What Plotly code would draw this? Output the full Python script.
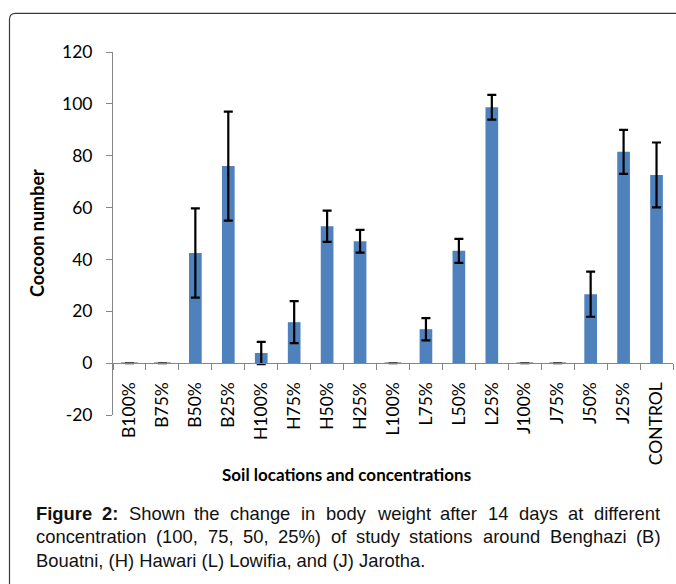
import plotly.graph_objects as go

# ---------------- data ----------------
categories = ["B100%", "B75%", "B50%", "B25%", "H100%", "H75%", "H50%", "H25%",
              "L100%", "L75%", "L50%", "L25%", "J100%", "J75%", "J50%", "J25%", "CONTROL"]
cocoons = [0, 0, 42.5, 76.0, 3.9, 15.8, 52.8, 47.0,
           0, 13.1, 43.3, 98.7, 0, 0, 26.6, 81.5, 72.6]
errors = [0, 0, 17.2, 21.0, 4.3, 8.1, 6.0, 4.4,
          0, 4.3, 4.6, 4.8, 0, 0, 8.7, 8.5, 12.5]
y_ticks = [-20, 0, 20, 40, 60, 80, 100, 120]

y_title = "Cocoon number"
x_title = "Soil locations and concentrations"
caption_title = "Figure 2:"
caption_lines = [
    "Shown the change in body weight after 14 days at different",
    "concentration (100, 75, 50, 25%) of study stations around Benghazi (B)",
    "Bouatni, (H) Hawari (L) Lowifia, and (J) Jarotha.",
]

# ---------------- geometry helpers ----------------
W, H = 676, 584
ML, MR, MT, MB = 113, 3, 52, 169
PW, PH = W - ML - MR, H - MT - MB


def px_x(px):
    return (px - ML) / PW


def px_y(py):
    return 1 - (py - MT) / PH


BLUE = "#4F81BD"
GRAY = "#868686"
TICKFONT = dict(family="Lato, Open Sans, sans-serif", size=17.5, color="#000000")

fig = go.Figure()

err_plot = [e if v != 0 else None for v, e in zip(cocoons, errors)]
fig.add_trace(go.Bar(
    x=categories, y=cocoons,
    marker=dict(color=BLUE, line=dict(width=0)),
    error_y=dict(type="data", array=err_plot, visible=True,
                 color="#000000", thickness=2.2, width=4.5),
    showlegend=False, hoverinfo="x+y",
))

zero_x = [c for c, v in zip(categories, cocoons) if v == 0]
zero_y = [v for v in cocoons if v == 0]
fig.add_trace(go.Scatter(
    x=zero_x, y=zero_y, mode="markers",
    marker=dict(symbol="line-ew", size=12, color="#7a7a7a",
                line=dict(width=1.5, color="#7a7a7a")),
    showlegend=False, hoverinfo="skip",
))

fig.update_layout(
    width=W, height=H,
    margin=dict(l=ML, r=MR, t=MT, b=MB, pad=0),
    paper_bgcolor="white", plot_bgcolor="white",
    bargap=0.615,
    xaxis=dict(
        type="category", range=[-0.5, len(categories) - 0.5],
        anchor="free", position=(0 - y_ticks[0]) / (y_ticks[-1] - y_ticks[0]),
        showline=True, linecolor=GRAY, linewidth=1,
        ticks="outside", tickson="boundaries", ticklen=6, tickcolor=GRAY, tickwidth=1,
        tickangle=-90, tickfont=TICKFONT, ticklabelstandoff=11,
        showgrid=False, zeroline=False,
    ),
    yaxis=dict(
        range=[y_ticks[0], y_ticks[-1]], tickvals=y_ticks,
        ticktext=[str(v) for v in y_ticks],
        showline=True, linecolor=GRAY, linewidth=1,
        ticks="outside", ticklen=6, tickcolor=GRAY, tickwidth=1,
        tickfont=TICKFONT, ticklabelstandoff=10,
        showgrid=False, zeroline=False,
    ),
)

annotations = []
# axis titles
annotations.append(dict(
    text="<b>%s</b>" % y_title, xref="paper", yref="paper",
    x=px_x(37), y=px_y(233), xanchor="center", yanchor="middle",
    textangle=-90, showarrow=False,
    font=dict(family="Lato, Open Sans, sans-serif", size=18, color="#000000"),
))
annotations.append(dict(
    text="<b>%s</b>" % x_title, xref="paper", yref="paper",
    x=px_x(346), y=px_y(475), xanchor="center", yanchor="middle",
    showarrow=False,
    font=dict(family="Lato, Open Sans, sans-serif", size=17, color="#000000"),
))

# caption (justified, Arial metrics == Liberation Sans)
REG = {' ': 278, '(': 333, ')': 333, ',': 278, '.': 278, '%': 889, ':': 278,
       'a': 556, 'b': 556, 'c': 500, 'd': 556, 'e': 556, 'f': 278, 'g': 556, 'h': 556,
       'i': 222, 'j': 222, 'k': 500, 'l': 222, 'm': 833, 'n': 556, 'o': 556, 'p': 556,
       'q': 556, 'r': 333, 's': 500, 't': 278, 'u': 556, 'v': 500, 'w': 722, 'x': 500,
       'y': 500, 'z': 500, 'B': 667, 'H': 722, 'J': 500, 'L': 556, 'F': 611}
BOLD = {'F': 611, 'i': 278, 'g': 611, 'u': 611, 'r': 389, 'e': 556, '2': 556, ':': 333, ' ': 278}
for d in "0123456789":
    REG[d] = 556

CFS = 18.4
CFONT = dict(family="Liberation Sans, Arial, sans-serif", size=CFS, color="#111111")


def tw(s, bold=False):
    tab = BOLD if bold else REG
    return sum(tab.get(ch, 556) for ch in s) * CFS / 1000.0


X0, X1 = 35.7, 660.5
line_centers = [513.0, 536.5, 560.0]

for li, line in enumerate(caption_lines):
    words = [(w, False) for w in line.split(" ")]
    if li == 0:
        words = [(w, True) for w in caption_title.split(" ")] + words
    yc = px_y(line_centers[li])
    if li < len(caption_lines) - 1:
        total = sum(tw(w, b) for w, b in words)
        gap = (X1 - X0 - total) / (len(words) - 1)
        x = X0
        for w, b in words:
            annotations.append(dict(
                text=("<b>%s</b>" % w) if b else w, xref="paper", yref="paper",
                x=px_x(x), y=yc, xanchor="left", yanchor="middle",
                showarrow=False, font=CFONT, borderpad=0, borderwidth=0,
            ))
            x += tw(w, b) + gap
    else:
        annotations.append(dict(
            text=line, xref="paper", yref="paper",
            x=px_x(X0), y=yc, xanchor="left", yanchor="middle",
            showarrow=False, font=CFONT, borderpad=0, borderwidth=0,
        ))

fig.update_layout(annotations=annotations)

# rounded frame around the figure (only top and left edges visible)
fl, ft, r = 9.5, 13.3, 6.0
path = "M %f,%f L %f,%f Q %f,%f %f,%f L %f,%f" % (
    px_x(720), px_y(ft), px_x(fl + r), px_y(ft),
    px_x(fl), px_y(ft), px_x(fl), px_y(ft + r),
    px_x(fl), px_y(620),
)
fig.add_shape(type="path", path=path, xref="paper", yref="paper",
              line=dict(color="#3a3a3a", width=1.2), layer="above")

fig.write_html(
    "out.html",
    config={"displayModeBar": False},
    post_script="document.body.style.margin='0';document.body.style.overflow='hidden';",
)
